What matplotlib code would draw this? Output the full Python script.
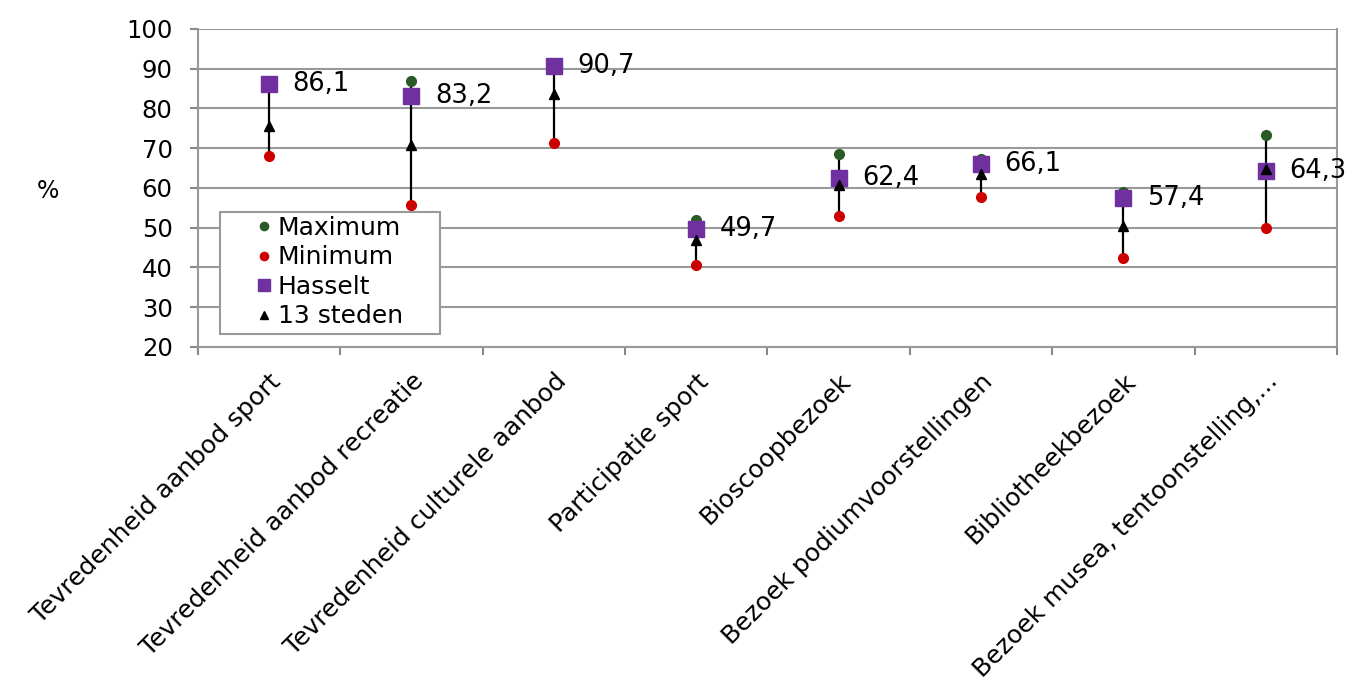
import numpy as np
import matplotlib
matplotlib.use("Agg")
import matplotlib.pyplot as plt
from matplotlib.patches import Rectangle

categories = ['Tevredenheid aanbod sport', 'Tevredenheid aanbod recreatie',
              'Tevredenheid culturele aanbod', 'Participatie sport',
              'Bioscoopbezoek', 'Bezoek podiumvoorstellingen',
              'Bibliotheekbezoek', 'Bezoek musea, tentoonstelling,...']
maximum = [86.9, 86.9, 90.7, 51.9, 68.6, 67.3, 59.0, 73.3]
minimum = [68.0, 55.7, 71.4, 40.5, 53.0, 57.8, 42.4, 50.0]
hasselt = [86.1, 83.2, 90.7, 49.7, 62.4, 66.1, 57.4, 64.3]
steden13 = [75.6, 70.9, 83.6, 46.8, 60.8, 63.5, 50.3, 64.8]

plt.rcParams['font.family'] = ['DejaVu Sans']

fig = plt.figure(figsize=(13.45, 6.87), dpi=100)
ax = fig.add_axes([0.147, 0.495, 0.847, 0.463])

x = np.arange(len(categories))

# hoog-laag lijnen
ax.vlines(x, minimum, maximum, color='black', lw=1.6, zorder=2)

ax.plot(x, maximum, 'o', color='#2A5A26', ms=7, ls='none', label='Maximum', zorder=3)
ax.plot(x, minimum, 'o', color='#CC0000', ms=7, ls='none', label='Minimum', zorder=3)
ax.plot(x, hasselt, 's', color='#7030A0', ms=11, ls='none', label='Hasselt', zorder=4)
ax.plot(x, steden13, '^', color='black', ms=7, ls='none', label='13 steden', zorder=5)

for xi, v in zip(x, hasselt):
    ax.annotate(f'{v:.1f}'.replace('.', ','), (xi, v), xytext=(17, 0),
                textcoords='offset points', ha='left', va='center', fontsize=18.5)

ax.set_xlim(-0.5, len(categories) - 0.5)
ax.set_ylim(20, 100)
ax.set_yticks(range(20, 101, 10))
ax.tick_params(axis='y', labelsize=17.5, length=6, width=1.5, color='#888888', pad=12)
ax.yaxis.grid(True, color='#999999', lw=1.5)
ax.set_axisbelow(True)

# categorieën: tick labels onder de punten, tickstreepjes op de grenzen
ax.set_xticks(x)
ax.set_xticklabels(categories, rotation=45, ha='right', rotation_mode='anchor', fontsize=18)
ax.tick_params(axis='x', length=0, pad=16)
ax.set_xticks(np.arange(-0.5, len(categories)), minor=True)
ax.tick_params(axis='x', which='minor', length=6, width=1.5, color='#888888')

for s in ax.spines.values():
    s.set_color('#999999')
    s.set_linewidth(1.5)
ax.spines['top'].set_visible(False)

fig.text(0.036, 0.722, '%', fontsize=17, ha='center', va='center')

# legendekader apart getekend, legende zelf zonder kader
box = Rectangle((0.0193, 0.041), 0.193, 0.3835, transform=ax.transAxes,
                facecolor='white', edgecolor='#999999', lw=1.5, zorder=6)
ax.add_patch(box)
leg = ax.legend(loc='upper left', bbox_to_anchor=(0.047, 0.412), fontsize=18,
                handletextpad=0.05, labelspacing=0.22, borderpad=0,
                handlelength=1.0, markerscale=0.85, frameon=False,
                borderaxespad=0)
leg.set_zorder(7)

fig.savefig('out.png', dpi=100)
